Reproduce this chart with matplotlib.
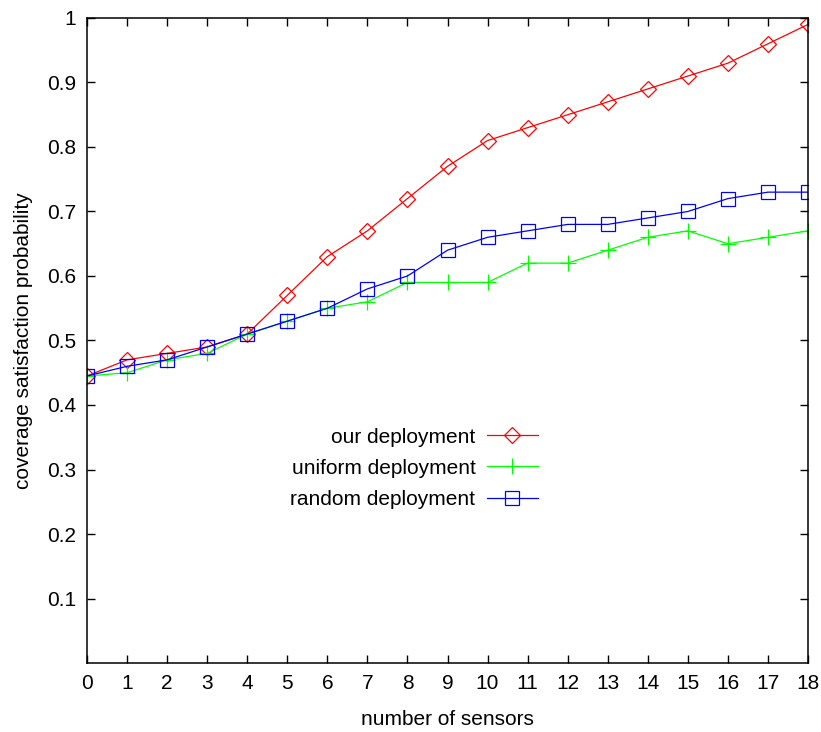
import matplotlib
matplotlib.use('Agg')
import matplotlib.pyplot as plt
from matplotlib.ticker import FuncFormatter

plt.rcParams['font.family'] = ['Liberation Sans', 'DejaVu Sans']

# data
sensors = list(range(19))
our = [0.445, 0.47, 0.48, 0.49, 0.51, 0.57, 0.63, 0.67, 0.72, 0.77,
       0.81, 0.83, 0.85, 0.87, 0.89, 0.91, 0.93, 0.96, 0.99]
uniform = [0.445, 0.45, 0.47, 0.48, 0.51, 0.53, 0.55, 0.56, 0.59, 0.59,
           0.59, 0.62, 0.62, 0.64, 0.66, 0.67, 0.65, 0.66, 0.67]
random_dep = [0.445, 0.46, 0.47, 0.49, 0.51, 0.53, 0.55, 0.58, 0.60, 0.64,
              0.66, 0.67, 0.68, 0.68, 0.69, 0.70, 0.72, 0.73, 0.73]
yticks = [0.1, 0.2, 0.3, 0.4, 0.5, 0.6, 0.7, 0.8, 0.9, 1.0]

fig = plt.figure(figsize=(8.21, 7.32), dpi=100)
ax = fig.add_axes([87/821, 69/732, 721/821, 645/732])  # [left, bottom, width, height]

ax.plot(sensors, our, color='#ff0000', lw=0.9, marker='D', ms=8.5,
        mfc='none', mec='#ff0000', mew=0.9, label='our deployment')
ax.plot(sensors, uniform, color='#00ff00', lw=0.9, marker='+', ms=12,
        mew=0.9, label='uniform deployment')
ax.plot(sensors, random_dep, color='#0000ff', lw=0.9, marker='s', ms=10.5,
        mfc='none', mec='#0000ff', mew=0.9, label='random deployment')

ax.set_xlim(0, 18)
ax.set_ylim(0, 1)
ax.set_xticks(sensors)
ax.set_yticks(yticks)
ax.yaxis.set_major_formatter(FuncFormatter(lambda v, p: '%g' % v))
ax.tick_params(direction='in', length=6, width=1, top=True, right=True,
               labelsize=15, pad=8)
for s in ax.spines.values():
    s.set_linewidth(1.1)

ax.set_xlabel('number of sensors', fontsize=15, labelpad=12)
ax.set_ylabel('coverage satisfaction probability', fontsize=15, labelpad=10)

ax.legend(loc='center right', bbox_to_anchor=(0.6255, 0.302), frameon=False,
          markerfirst=False, fontsize=15, borderpad=0, borderaxespad=0,
          handlelength=2.45, handletextpad=0.55, labelspacing=0.58)

plt.savefig('out.png', dpi=100)
plt.close(fig)
